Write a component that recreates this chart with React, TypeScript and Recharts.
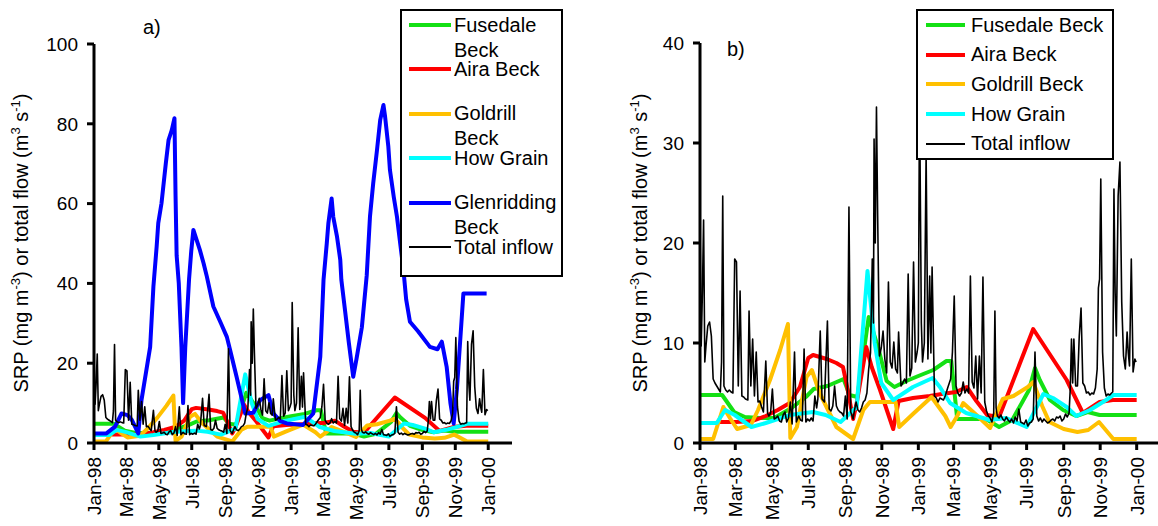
import { LineChart, Line, XAxis, YAxis, Legend } from "recharts";

type Pt = [number, number];

// x positions are days since 1 Jan 1998
const tickDays = [0, 59, 120, 181, 243, 304, 365, 424, 485, 546, 608, 669, 730];
const tickLabels = [
  "Jan-98", "Mar-98", "May-98", "Jul-98", "Sep-98", "Nov-98", "Jan-99",
  "Mar-99", "May-99", "Jul-99", "Sep-99", "Nov-99", "Jan-00",
];
const ticksA = [0, 20, 40, 60, 80, 100];
const ticksB = [0, 10, 20, 30, 40];

const fusedale: Pt[] = [
  [0, 4.8], [37, 4.8], [57, 3.1], [75, 2.6], [100, 2.5], [124, 2.5], [153, 3.5], [177, 4.6],
  [190, 5.4], [213, 5.7], [240, 6.4], [250, 4.8], [263, 4.6], [282, 12.6], [298, 9.5], [312, 6.2],
  [325, 5.6], [345, 6.2], [365, 6.7], [390, 7.3], [412, 8.2], [420, 8.2], [430, 2.4], [478, 2.4],
  [500, 1.6], [522, 2.3], [550, 5.3], [560, 7.5], [568, 6.3], [585, 4.3], [607, 3.3], [629, 2.7],
  [648, 3.1], [668, 2.8], [730, 2.8],
];

const aira: Pt[] = [
  [33, 2.1], [60, 2.1], [88, 2.2], [110, 2.7], [130, 3.3], [150, 4.0], [167, 5.6], [181, 8.5],
  [189, 8.8], [212, 8.4], [228, 8.0], [239, 7.6], [245, 5.9], [256, 2.4], [262, 4.0], [278, 9.6],
  [287, 7.6], [301, 5.3], [323, 1.4], [332, 4.2], [356, 4.5], [384, 4.7], [404, 4.9], [428, 5.1],
  [446, 5.6], [462, 4.2], [480, 2.8], [500, 2.6], [557, 11.4], [613, 6.3], [640, 3.0], [668, 4.1],
  [690, 4.3], [730, 4.3],
];

const goldrill: Pt[] = [
  [0, 0.4], [22, 0.4], [39, 3.6], [50, 2.5], [62, 1.4], [85, 1.8], [97, 3.3], [117, 6.3],
  [134, 9.3], [147, 11.9], [151, 0.5], [162, 1.6], [178, 6.6], [187, 7.3], [200, 5.0], [228, 1.6],
  [256, 0.4], [273, 3.3], [284, 4.1], [327, 4.1], [333, 1.6], [356, 2.9], [387, 4.6], [410, 2.7],
  [419, 1.6], [431, 2.8], [440, 4.0], [464, 2.7], [485, 1.5], [506, 4.4], [524, 4.7], [548, 5.6],
  [557, 6.1], [572, 3.7], [584, 2.1], [608, 1.4], [631, 1.1], [649, 1.3], [667, 2.1], [691, 0.4],
  [730, 0.4],
];

const howGrain: Pt[] = [
  [0, 2.0], [28, 2.0], [42, 3.3], [58, 2.8], [86, 1.6], [110, 2.0], [150, 2.8], [189, 3.1],
  [210, 2.8], [235, 2.1], [262, 3.6], [280, 17.2], [292, 10.0], [303, 6.0], [323, 4.3], [356, 5.6],
  [389, 6.5], [401, 5.6], [418, 4.0], [445, 3.0], [484, 2.3], [512, 2.5], [546, 1.6], [574, 4.9],
  [590, 4.5], [613, 3.6], [629, 2.7], [652, 3.3], [679, 4.3], [691, 4.8], [730, 4.8],
];

const glenridding: Pt[] = [
  [0, 2.4], [23, 2.4], [39, 4.1], [51, 7.4], [62, 7.0], [70, 5.8], [82, 2.4], [88, 10.8],
  [104, 24.1], [110, 39.2], [116, 49.2], [119, 55.1], [125, 60.1], [133, 70.1], [138, 75.9],
  [144, 78.4], [149, 81.4], [151, 62], [153, 47], [157, 40], [162, 24], [165, 10], [169, 24],
  [176, 41], [180, 48], [184, 53.4], [190, 50.9], [196, 48.4], [203, 45.0], [209, 41.7],
  [221, 34.2], [235, 30.0], [246, 26.6], [252, 23.3], [264, 16.6], [274, 10.8], [280, 7.4],
  [295, 7.6], [308, 10.8], [323, 12.0], [332, 7.4], [345, 5.5], [357, 4.9], [387, 4.5],
  [406, 7.4], [419, 21.6], [425, 40.9], [431, 50.0], [434, 55.1], [440, 61.3], [443, 56.7],
  [450, 51.7], [456, 45.9], [458, 40.9], [465, 33.0], [472, 25.0], [480, 16.6], [486, 21.0],
  [496, 29.0], [505, 42.0], [511, 56.7], [517, 65.1], [524, 73.4], [530, 81.0], [536, 84.7],
  [539, 81.8], [545, 74.3], [548, 68.4], [555, 61.7], [561, 56.7], [567, 50.0], [573, 43.4],
  [578, 36.0], [585, 30.4], [600, 28.0], [622, 24.1], [636, 23.5], [644, 25.4], [653, 19.1],
  [660, 10.0], [666, 4.9], [672, 13.5], [684, 37.5], [727, 37.5],
];

const totalInflow: Pt[] = [
  [0, 22.0], [2, 9.7], [4, 15], [6, 22.3], [8, 8.1], [10, 9.7], [13, 11.7], [16, 12.1], [19, 10.7],
  [22, 6.4], [25, 6.0], [28, 5.7], [31, 5.4], [34, 5.1], [36, 8.1], [38, 24.7], [40, 5.7], [43, 5.3],
  [46, 5.1], [49, 5.3], [52, 5.1], [55, 5.0], [58, 18.4], [61, 18.1], [64, 5.7], [67, 15.2], [70, 4.7],
  [73, 4.6], [76, 4.4], [80, 4.3], [82, 13.2], [85, 5.7], [88, 10.4], [91, 4.7], [94, 9.1], [97, 4.1],
  [100, 4.2], [103, 3.6], [106, 3.1], [110, 8.2], [113, 3.0], [115, 2.7], [118, 3.0], [121, 5.4],
  [124, 2.4], [127, 2.5], [130, 2.7], [133, 2.2], [136, 2.1], [139, 2.8], [142, 3.1], [145, 2.1],
  [148, 2.5], [151, 4.1], [154, 1.9], [158, 9.1], [161, 2.1], [165, 2.7], [168, 2.3], [171, 2.2],
  [174, 9.4], [177, 2.1], [180, 2.4], [183, 2.2], [186, 2.5], [189, 2.2], [192, 4.7], [195, 3.5],
  [197, 4.4], [201, 11.2], [204, 4.4], [208, 4.1], [213, 12.2], [216, 3.4], [219, 3.2], [222, 3.7],
  [225, 5.7], [228, 3.7], [231, 3.3], [234, 3.1], [237, 3.0], [240, 2.7], [243, 4.7], [246, 2.4],
  [249, 23.6], [252, 3.1], [256, 2.4], [258, 3.2], [261, 4.1], [264, 3.3], [267, 3.1], [270, 3.5],
  [273, 4.1], [276, 4.3], [279, 5.0], [282, 7.4], [285, 9.0], [288, 18.4], [290, 12], [291, 30.4],
  [293, 20], [295, 33.6], [297, 22.7], [300, 8.7], [303, 9.5], [306, 11.2], [309, 8.4], [312, 7.0],
  [315, 16.1], [318, 8.1], [321, 7.5], [324, 10.1], [327, 7.4], [330, 7.0], [332, 11.1], [336, 5.7],
  [339, 6.0], [342, 6.4], [345, 6.0], [348, 16.9], [351, 6.7], [354, 7.5], [357, 18.1], [360, 8.1],
  [363, 9.1], [365, 10], [367, 35.2], [370, 12], [372, 8.1], [375, 10], [378, 28.9], [381, 8.4],
  [384, 16.7], [386, 9], [388, 17.6], [392, 4.7], [395, 4.5], [398, 4.1], [401, 4.5], [404, 4.4],
  [407, 4.3], [410, 4.7], [414, 5.5], [419, 6.4], [422, 9.1], [425, 14.7], [428, 5.7], [431, 5.0],
  [434, 4.7], [437, 5.0], [440, 6.1], [443, 5.0], [446, 5.4], [449, 5.0], [452, 16.7], [455, 6.1],
  [458, 5.5], [461, 8.7], [464, 4.4], [467, 8.7], [470, 5.0], [473, 16.6], [476, 4.1], [479, 3.2],
  [482, 2.7], [485, 2.5], [488, 2.1], [491, 3.0], [493, 13.2], [495, 3.5], [497, 2.7], [500, 2.5],
  [503, 2.8], [506, 2.4], [509, 2.2], [512, 2.6], [515, 2.3], [518, 2.1], [521, 2.4], [524, 2.0],
  [527, 2.6], [530, 2.2], [533, 3.4], [536, 2.1], [539, 2.0], [542, 1.9], [545, 2.3], [548, 1.7],
  [551, 2.0], [554, 2.1], [557, 2.4], [560, 9.1], [563, 2.7], [566, 2.2], [569, 2.5], [572, 2.1],
  [575, 2.4], [578, 2.2], [581, 2.0], [584, 2.1], [587, 2.3], [590, 2.4], [593, 2.2], [596, 2.6],
  [599, 2.5], [602, 2.7], [605, 2.2], [608, 2.4], [611, 2.9], [614, 2.6], [617, 3.0], [619, 5.5],
  [621, 10.4], [623, 6], [625, 10.4], [628, 5.7], [631, 5.7], [634, 10.7], [637, 13.5], [640, 6.0],
  [643, 5.7], [646, 5.0], [649, 5.1], [652, 4.8], [655, 5.0], [658, 4.9], [661, 5.5], [664, 7.4],
  [666, 15.5], [668, 16.4], [670, 26.4], [673, 9.1], [676, 5.5], [679, 4.7], [682, 4.9], [685, 4.8],
  [688, 5.0], [690, 5.1], [692, 25.4], [694, 15], [696, 10.7], [699, 24.7], [702, 28.1], [705, 14.1],
  [708, 8.7], [711, 7.4], [714, 11.1], [716, 9], [718, 7.7], [721, 18.4], [724, 7.1], [727, 8.4],
  [729, 8.1],
];

type Series = { name: string; color: string; width: number; pts: Pt[] };

const sFusedale: Series = { name: "Fusedale Beck", color: "#14e014", width: 4, pts: fusedale };
const sAira: Series = { name: "Aira Beck", color: "#ff0000", width: 4, pts: aira };
const sGoldrill: Series = { name: "Goldrill Beck", color: "#ffc000", width: 4, pts: goldrill };
const sHowGrain: Series = { name: "How Grain", color: "#00ffff", width: 4, pts: howGrain };
const sGlen: Series = { name: "Glenridding Beck", color: "#0000ff", width: 4, pts: glenridding };
const sTotal: Series = { name: "Total inflow", color: "#000000", width: 1.6, pts: totalInflow };

const rows = (pts: Pt[]) => pts.map(([d, v]) => ({ d, v }));

const FONT = '"Liberation Sans", Arial, sans-serif';

function MonthTick(props: any) {
  const { x, y, payload } = props;
  const i = tickDays.indexOf(payload.value);
  return (
    <text
      transform={`translate(${x},${y + 5}) rotate(-90)`}
      textAnchor="end"
      dy="0.36em"
      fontSize={19}
      fill="#000"
    >
      {tickLabels[i]}
    </text>
  );
}

function AxisTitle({ cx, cy }: { cx: number; cy: number }) {
  return (
    <text
      transform={`translate(${cx},${cy}) rotate(-90)`}
      textAnchor="middle"
      dy="0.36em"
      fontSize={20}
      fill="#000"
    >
      SRP (mg m
      <tspan dy={-8} fontSize={13}>-3</tspan>
      <tspan dy={8}>) or total flow (m</tspan>
      <tspan dy={-8} fontSize={13}>3</tspan>
      <tspan dy={8}> s</tspan>
      <tspan dy={-8} fontSize={13}>-1</tspan>
      <tspan dy={8}>)</tspan>
    </text>
  );
}

type LegendLayout = {
  step: number;
  lineLeft: number;
  lineWidth: number;
  textLeft: number;
  textWidth: number;
};

function LegendBox({ items, lay }: { items: Series[]; lay: LegendLayout }) {
  return (
    <div style={{ position: "relative", width: "100%", height: "100%", fontFamily: FONT }}>
      {items.map((s, i) => {
        const cy = 14 + i * lay.step;
        const lw = s.width > 2 ? 4 : 2;
        return (
          <div key={s.name}>
            <div
              style={{
                position: "absolute",
                left: lay.lineLeft,
                top: cy - lw / 2,
                width: lay.lineWidth,
                height: lw,
                background: s.color,
              }}
            />
            <div
              style={{
                position: "absolute",
                left: lay.textLeft,
                top: cy - 12.5,
                width: lay.textWidth,
                fontSize: 20,
                lineHeight: "25px",
                color: "#000",
              }}
            >
              {s.name}
            </div>
          </div>
        );
      })}
    </div>
  );
}

type PanelProps = {
  left: number;
  width: number;
  axisWidth: number;
  top: number;
  yMax: number;
  yTicks: number[];
  series: Series[];
  title: string;
  titleX: number;
  titleY: number;
  axisTitleX: number;
  legendPos: { left: number; top: number; width: number; height: number };
  legendLay: LegendLayout;
};

function Panel(p: PanelProps) {
  const axisStyle = { stroke: "#000", strokeWidth: 3 };
  return (
    <div style={{ position: "absolute", left: p.left, top: 0, width: p.width, height: 526 }}>
      <LineChart width={p.width} height={526} margin={{ top: p.top, right: 0, bottom: 0, left: 0 }}>
        <XAxis
          dataKey="d"
          type="number"
          domain={[0, 774]}
          ticks={tickDays}
          interval={0}
          allowDataOverflow
          height={83}
          tickSize={7}
          tickMargin={2}
          axisLine={axisStyle}
          tickLine={axisStyle}
          tick={<MonthTick />}
        />
        <YAxis
          type="number"
          domain={[0, p.yMax]}
          ticks={p.yTicks}
          interval={0}
          width={p.axisWidth}
          tickSize={7}
          tickMargin={9}
          axisLine={axisStyle}
          tickLine={axisStyle}
          tick={{ fontSize: 19, fill: "#000" }}
          label={<AxisTitle cx={p.axisTitleX} cy={243} />}
        />
        {p.series.map((s) => (
          <Line
            key={s.name}
            data={rows(s.pts)}
            dataKey="v"
            name={s.name}
            type="linear"
            stroke={s.color}
            strokeWidth={s.width}
            strokeLinejoin="round"
            dot={false}
            activeDot={false}
            isAnimationActive={false}
          />
        ))}
        <Legend
          layout="horizontal"
          verticalAlign="middle"
          align="center"
          wrapperStyle={{
            left: p.legendPos.left,
            top: p.legendPos.top,
            width: p.legendPos.width,
            height: p.legendPos.height,
            border: "2px solid #000",
            background: "#fff",
            boxSizing: "border-box",
            margin: 0,
          }}
          content={() => <LegendBox items={p.series} lay={p.legendLay} />}
        />
      </LineChart>
      <div
        style={{
          position: "absolute",
          left: p.titleX,
          top: p.titleY - 12,
          fontSize: 20,
          lineHeight: "24px",
          fontFamily: FONT,
        }}
      >
        {p.title}
      </div>
    </div>
  );
}

export default function App() {
  return (
    <div
      style={{
        position: "fixed",
        left: 0,
        top: 0,
        width: 1158,
        height: 526,
        overflow: "hidden",
        background: "#fff",
        fontFamily: FONT,
      }}
    >
      <Panel
        left={0}
        width={512}
        axisWidth={94}
        top={44}
        yMax={100}
        yTicks={ticksA}
        series={[sFusedale, sAira, sGoldrill, sHowGrain, sGlen, sTotal]}
        title="a)"
        titleX={143}
        titleY={27}
        axisTitleX={21}
        legendPos={{ left: 400, top: 9, width: 163, height: 268 }}
        legendLay={{ step: 44.4, lineLeft: 7, lineWidth: 42, textLeft: 52, textWidth: 108 }}
      />
      <Panel
        left={600}
        width={563}
        axisWidth={100}
        top={43}
        yMax={40}
        yTicks={ticksB}
        series={[sFusedale, sAira, sGoldrill, sHowGrain, sTotal]}
        title="b)"
        titleX={127}
        titleY={49}
        axisTitleX={40}
        legendPos={{ left: 316, top: 9, width: 198, height: 151 }}
        legendLay={{ step: 29.7, lineLeft: 8, lineWidth: 39, textLeft: 53, textWidth: 140 }}
      />
    </div>
  );
}
